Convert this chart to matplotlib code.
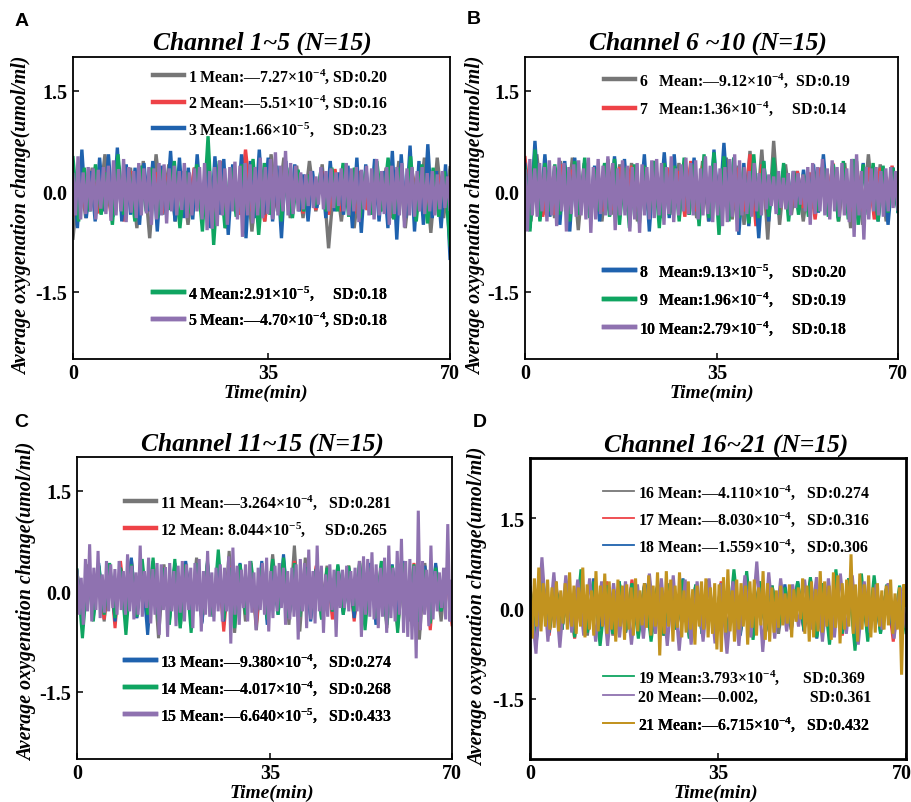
import numpy as np
import matplotlib
matplotlib.use("Agg")
import matplotlib.pyplot as plt
from matplotlib.transforms import ScaledTranslation

plt.rcParams['font.family'] = ['Liberation Serif']
plt.rcParams['font.weight'] = 'bold'
plt.rcParams['mathtext.fontset'] = 'custom'
plt.rcParams['mathtext.rm'] = 'Liberation Serif:bold'
plt.rcParams['mathtext.default'] = 'rm'

W, H = 912, 803

# values (umol/ml), evenly spread over 0-70 min
ch1 = [-.70,.30,-.40,.35,-.30,.55,-.35,.45,-.30,.35,-.55,.45,-.70,.55,-.35,.40,-.45,.30,-.50,.35,-.30,.40,-.35,.45,-.55,.30,-.35,.42,-.60,.35,-.45,.55,-.30,.50,-.40,.38,-.40,.45,-.30,.40,-.85,.30,-.45,.35,-.55,.28,-.25,.20,-.30,.35,-.40,.45,-.55,.35,-.30,.50,-.62,.50,-.40,.35]
ch2 = [-.35,.28,-.30,.25,-.33,.30,-.38,.28,-.45,.30,-.25,.35,-.30,.28,-.33,.30,-.35,.25,-.30,.35,-.28,.32,-.30,.45,-.55,.30,-.35,.62,-.30,.30,-.45,.25,-.25,.20,-.30,.28,-.33,.25,-.28,.30,-.35,.33,-.30,.25,-.33,.30,-.28,.25,-.30,.28,-.35,.28,-.25,.30,-.28,.25,-.30,.28,-.25,.20]
ch3 = [.40,-.55,.62,-.40,.30,-.45,.50,-.30,.55,-.38,.65,-.45,.40,-.35,.35,-.50,.42,-.30,.45,-.60,.38,-.35,.60,-.45,.50,-.40,.35,-.42,.55,-.30,.40,-.55,.52,-.35,.48,-.65,.40,-.35,.55,-.70,.45,-.40,.62,-.35,.50,-.45,.38,-.70,.45,-.35,.40,-.30,.25,-.45,.30,-.25,.35,-.40,.45,-.30,.28,-.35,.38,-.55,.50,-.62,.40,-.35,.48,-.45,.30,-.55,.60,-.72,.55,-.40,.68,-.60,.45,-.50,.70,-.40,.30,-.55,.40,-1.0]
ch4 = [.50,-.45,.35,-.30,.40,-.35,.28,-.50,.55,-.35,.30,-.45,.38,-.30,.35,-.40,.32,-.28,.45,-.55,.30,-.33,.40,-.60,.82,-.80,.45,-.55,.35,-.38,.40,-.30,.48,-.65,.42,-.35,.38,-.45,.35,-.40,.32,-.30,.25,-.22,.28,-.30,.35,-.30,.42,-.38,.35,-.40,.30,-.35,.45,-.30,.50,-.42,.35,-.30,.52,-.45,.40,-.48,.35,-.38,.30,-.80]
ch5 = [.25,-.36,.52,-.42,.28,-.34,.36,-.30,.34,-.42,.32,-.26,.36,-.34,.38,-.44,.46,-.36,.33,-.30,.48,-.46,.36,-.32,.30,-.40,.42,-.36,.34,-.33,.36,-.50,.34,-.42,.42,-.36,.40,-.48,.34,-.30,.38,-.36,.30,-.28,.42,-.40,.28,-.36,.34,-.30,.36,-.42,.42,-.58,.30,-.56,.36,-.52,.46,-.36,.34,-.50,.36,-.30,.44,-.42,.38,-.68,.42,-.36,.40,-.48,.36,-.36,.50,-.40,.36,-.34,.48,-.42,.58,-.36,.38,-.30,.60,-.36,.42,-.34,.38,-.30,.28,-.27,.25,-.22,.30,-.25,.22,-.20,.36,-.27,.30,-.30,.34,-.25,.28,-.22,.34,-.30,.42,-.36,.34,-.30,.36,-.46,.32,-.27,.38,-.36,.34,-.42,.48,-.36,.30,-.34,.36,-.50,.38,-.34,.36,-.36,.42,-.54,.34,-.36,.36,-.38,.30,-.30,.36,-.34,.27,-.30,.30,-.36,.25,-.27,.30,-.25,.22,-.27]

ch6 = [.30,-.45,.55,-.35,.30,-.40,.45,-.35,.50,-.58,.42,-.30,.35,-.45,.48,-.35,.40,-.30,.42,-.45,.38,-.30,.45,-.40,.35,-.35,.42,-.30,.38,-.40,.45,-.45,.40,-.35,.50,-.42,.38,-.50,.60,-.45,.62,-.72,.75,-.50,.40,-.35,.30,-.45,.25,-.30,.35,-.25,.40,-.45,.42,-.55,.45,-.50,.55,-.35,.40,-.45,.35,-.30]
ch7 = [.50,-.30,.35,-.38,.30,-.35,.40,-.28,.32,-.30,.28,-.35,.33,-.30,.30,-.28,.36,-.25,.38,-.30,.33,-.38,.42,-.30,.35,-.28,.30,-.38,.45,-.30,.38,-.28,.35,-.30,.32,-.28,.35,-.30,.55,-.52,.40,-.35,.30,-.28,.25,-.22,.30,-.25,.28,-.42,.35,-.30,.42,-.35,.35,-.30,.33,-.30,.35,-.42,.35,-.28,.38,-.22]
ch8 = [.40,-.55,.75,-.42,.55,-.38,.35,-.50,.45,-.60,.50,-.35,.42,-.30,.38,-.45,.40,-.30,.52,-.35,.48,-.42,.30,-.35,.55,-.60,.45,-.35,.58,-.40,.55,-.38,.42,-.35,.50,-.42,.40,-.45,.62,-.38,.72,-.35,.50,-.65,.42,-.52,.35,-.70,.45,-.45,.38,-.25,.35,-.30,.30,-.28,.32,-.30,.40,-.32,.55,-.35,.38,-.40,.35,-.30,.38,-.35,.42,-.30,.30,-.45,.35,-.50,.35,-.30]
ch9 = [.35,-.60,.62,-.45,.42,-.30,.40,-.35,.38,-.45,.45,-.35,.50,-.40,.33,-.30,.42,-.38,.48,-.50,.35,-.55,.40,-.48,.38,-.35,.45,-.55,.42,-.35,.38,-.45,.50,-.35,.40,-.52,.55,-.40,.58,-.65,.52,-.45,.50,-.40,.35,-.48,.55,-.40,.45,-.38,.50,-.35,.42,-.45,.30,-.35,.25,-.38,.30,-.30,.35,-.38,.40,-.45,.45,-.42,.48,-.50,.40,-.35,.42,-.45,.38,-.32,.35,-.30]
ch10 = [.30,-.60,.48,-.36,.34,-.38,.42,-.30,.36,-.45,.46,-.36,.38,-.52,.50,-.30,.42,-.60,.36,-.34,.40,-.38,.46,-.36,.34,-.42,.50,-.62,.36,-.42,.48,-.34,.38,-.36,.52,-.36,.42,-.58,.34,-.36,.46,-.36,.38,-.60,.36,-.42,.42,-.62,.40,-.36,.36,-.42,.46,-.40,.48,-.36,.42,-.50,.36,-.34,.52,-.46,.34,-.36,.40,-.30,.50,-.34,.42,-.36,.46,-.42,.34,-.36,.52,-.34,.38,-.46,.42,-.36,.34,-.52,.36,-.46,.48,-.38,.55,-.60,.46,-.36,.36,-.34,.30,-.38,.42,-.30,.27,-.36,.34,-.27,.25,-.22,.22,-.34,.30,-.25,.20,-.27,.27,-.36,.30,-.25,.27,-.20,.25,-.30,.36,-.50,.42,-.34,.36,-.30,.48,-.36,.34,-.42,.46,-.30,.36,-.38,.42,-.36,.34,-.46,.48,-.68,.55,-.36,.30,-.72,.36,-.42,.34,-.30,.36,-.36,.30,-.38,.34,-.30,.36,-.25,.30,-.27]

ch11 = [.25,-.45,.40,-.35,.38,-.45,.30,-.42,.35,-.30,.48,-.40,.32,-.38,.45,-.70,.40,-.35,.38,-.55,.42,-.30,.50,-.45,.38,-.35,.42,-.50,.60,-.62,.40,-.45,.35,-.58,.40,-.35,.55,-.30,.38,-.50,.68,-.60,.50,-.40,.35,-.42,.38,-.30,.35,-.30,.32,-.40,.45,-.35,.40,-.30,.42,-.55,.35,-.38,.40,-.45,.35,-.72,.42,-.38,.30,-.45,.35,-.30]
ch12 = [.30,-.40,.35,-.30,.32,-.42,.40,-.55,.45,-.30,.45,-.35,.38,-.30,.42,-.35,.35,-.42,.38,-.35,.40,-.30,.35,-.45,.40,-.35,.45,-.60,.38,-.40,.35,-.35,.42,-.50,.35,-.38,.40,-.30,.38,-.40,.45,-.35,.30,-.32,.38,-.30,.32,-.42,.35,-.30,.38,-.45,.30,-.35,.40,-.38,.35,-.30,.38,-.55,.32,-.30,.42,-.35,.30,-.58,.38,-.30,.25,-.50]
ch13 = [.30,-.50,.35,-.40,.42,-.30,.38,-.45,.35,-.30,.50,-.40,.35,-.65,.40,-.35,.33,-.45,.42,-.40,.45,-.35,.38,-.48,.42,-.30,.40,-.45,.35,-.38,.42,-.30,.38,-.35,.45,-.50,.42,-.35,.55,-.40,.38,-.30,.36,-.45,.33,-.35,.30,-.30,.38,-.35,.35,-.40,.32,-.30,.42,-.50,.38,-.42,.40,-.35,.45,-.30,.30,-.45,.38,-.32,.42,-.30,.30,-.30]
ch14 = [.32,-.70,.30,-.45,.38,-.35,.42,-.40,.35,-.65,.40,-.38,.48,-.35,.50,-.45,.35,-.50,.48,-.55,.40,-.62,.42,-.35,.45,-.38,.62,-.42,.35,-.55,.40,-.35,.45,-.30,.35,-.42,.48,-.35,.50,-.40,.42,-.38,.35,-.30,.32,-.42,.35,-.30,.40,-.35,.38,-.30,.42,-.58,.35,-.40,.45,-.50,.38,-.62,.42,-.35,.40,-.45,.32,-.48,.35,-.30,.30,-.35]
ch15 = [.30,-.35,.20,-.50,.48,-.30,.70,-.45,.35,-.28,.60,-.40,.25,-.32,.45,-.30,.40,-.25,.33,-.35,.45,-.28,.30,-.35,.55,-.30,.38,-.42,.28,-.35,.68,-.38,.30,-.25,.50,-.48,.33,-.35,.42,-.65,.40,-.28,.36,-.68,.42,-.30,.30,-.52,.38,-.32,.45,-.45,.40,-.28,.35,-.55,.42,-.30,.48,-.60,.30,-.35,.60,-.38,.28,-.45,.35,-.30,.40,-.45,.35,-.30,.52,-.78,.65,-.35,.38,-.50,.32,-.25,.40,-.45,.45,-.32,.28,-.58,.35,-.28,.42,-.35,.50,-.60,.30,-.40,.38,-.30,.42,-.25,.35,-.50,.30,-.42,.35,-.38,.40,-.72,.48,-.30,.42,-.55,.62,-.42,.30,-.48,.68,-.30,.38,-.62,.25,-.38,.40,-.28,.32,-.68,.30,-.25,.32,-.25,.38,-.30,.30,-.22,.35,-.30,.45,-.68,.52,-.35,.48,-.38,.58,-.42,.40,-.55,.35,-.38,.50,-.62,.68,-.40,.35,-.45,.60,-.35,.78,-.62,.45,-.68,.48,-.72,.38,-1.0,1.20,-.58,.45,-.35,.32,-.52,.68,-.42,.30,-.30,.28,-.25,.35,-.42,1.0,-.45,.15]

ch16 = [.30,-.50,.42,-.30,.45,-.35,.38,-.40,.50,-.45,.38,-.32,.42,-.45,.35,-.40,.38,-.30,.42,-.45,.35,-.38,.40,-.32,.45,-.48,.38,-.35,.40,-.30,.35,-.42,.48,-.38,.36,-.30,.45,-.35,.38,-.42,.30,-.28,.42,-.35,.35,-.40,.30,-.38,.42,-.30,.35,-.40,.45,-.32,.40,-.35,.38,-.42,.30,-.30]
ch17 = [.35,-.40,.38,-.45,.42,-.35,.40,-.50,.35,-.38,.42,-.30,.45,-.38,.40,-.35,.48,-.42,.40,-.30,.38,-.45,.42,-.35,.45,-.40,.38,-.32,.42,-.40,.45,-.35,.38,-.42,.48,-.35,.40,-.38,.35,-.30,.33,-.35,.40,-.38,.50,-.40,.42,-.35,.52,-.45,.42,-.38,.35,-.40,.38,-.30,.36,-.55,.30,-.30]
ch18 = [.30,-.55,.45,-.40,.38,-.35,.42,-.42,.40,-.38,.50,-.35,.38,-.30,.45,-.40,.40,-.35,.42,-.45,.35,-.38,.42,-.32,.50,-.40,.38,-.42,.48,-.35,.40,-.38,.42,-.45,.38,-.35,.36,-.30,.35,-.32,.40,-.35,.45,-.38,.42,-.50,.40,-.35,.48,-.40,.50,-.58,.42,-.45,.35,-.40,.38,-.42,.30,-.30]
ch19 = [.35,-.45,.48,-.38,.40,-.35,.42,-.48,.65,-.40,.45,-.62,.38,-.42,.45,-.38,.42,-.50,.40,-.55,.38,-.45,.42,-.35,.48,-.50,.40,-.42,.45,-.38,.42,-.48,.65,-.40,.62,-.52,.45,-.38,.38,-.32,.35,-.30,.45,-.35,.52,-.48,.42,-.60,.65,-.42,.50,-.70,.58,-.55,.55,-.42,.40,-.35,.38,-.40]
ch20 = [.30,-.75,.85,-.55,.60,-.65,.55,-.40,.48,-.45,.50,-.55,.45,-.62,.42,-.48,.45,-.60,.40,-.50,.58,-.42,.50,-.62,.55,-.70,.48,-.60,.45,-.55,.50,-.58,.42,-.75,.45,-.62,.55,-.48,.78,-.72,.60,-.50,.50,-.38,.40,-.30,.48,-.35,.52,-.55,.50,-.48,.58,-.42,.55,-.60,.45,-.40,.40,-.35,.42,-.50,.35,-.30]
ch21 = [.32,-.50,.50,-.30,.68,-.38,.42,-.30,.48,-.35,.35,-.32,.45,-.38,.30,-.25,.42,-.35,.60,-.30,.38,-.42,.35,-.30,.68,-.48,.40,-.35,.30,-.45,.62,-.38,.38,-.30,.58,-.42,.45,-.35,.32,-.55,.48,-.30,.38,-.52,.40,-.35,.35,-.45,.50,-.38,.30,-.28,.42,-.32,.55,-.45,.38,-.30,.60,-.78,.35,-.42,.62,-.30,.48,-.55,.38,-.32,.60,-.48,.30,-.40,.45,-.35,.32,-.60,.38,-.30,.45,-.35,.50,-.48,.35,-.42,.42,-.68,.40,-.72,.52,-.40,.65,-.38,.30,-.55,.48,-.35,.42,-.30,.38,-.60,.45,-.32,.48,-.45,.35,-.28,.62,-.52,.42,-.55,.35,-.40,.30,-.32,.38,-.28,.25,-.25,.40,-.48,.32,-.22,.35,-.18,.50,-.42,.38,-.55,.45,-.48,.32,-.38,.62,-.40,.45,-.30,.38,-.52,.60,-.32,.55,-.58,.42,-.35,.48,-.30,.90,-.42,.40,-.55,.58,-.35,.40,-.30,.55,-.48,.35,-.40,.42,-.30,.30,-.35,.38,-.28,.48,-.42,.25,-.35,.35,-1.10,.40,.05]

labels_a = ["1 Mean:—7.27×10$^{-4}$, SD:0.20", "2 Mean:—5.51×10$^{-4}$, SD:0.16",
            "3 Mean:1.66×10$^{-5}$,     SD:0.23", "4 Mean:2.91×10$^{-5}$,     SD:0.18",
            "5 Mean:—4.70×10$^{-4}$, SD:0.18"]
labels_b = ["6   Mean:—9.12×10$^{-4}$,  SD:0.19", "7   Mean:1.36×10$^{-4}$,     SD:0.14",
            "8   Mean:9.13×10$^{-5}$,     SD:0.20", "9   Mean:1.96×10$^{-4}$,     SD:0.19",
            "10 Mean:2.79×10$^{-4}$,     SD:0.18"]
labels_c = ["11 Mean:—3.264×10$^{-4}$,   SD:0.281", "12 Mean: 8.044×10$^{-5}$,     SD:0.265",
            "13 Mean:—9.380×10$^{-4}$,   SD:0.274", "14 Mean:—4.017×10$^{-4}$,   SD:0.268",
            "15 Mean:—6.640×10$^{-5}$,   SD:0.433"]
labels_d = ["16 Mean:—4.110×10$^{-4}$,   SD:0.274", "17 Mean:—8.030×10$^{-4}$,   SD:0.316",
            "18 Mean:—1.559×10$^{-4}$,   SD:0.306", "19 Mean:3.793×10$^{-4}$,      SD:0.369",
            "20 Mean:—0.002,             SD:0.361", "21 Mean:—6.715×10$^{-4}$,   SD:0.432"]

colors = ['#767676', '#ee4247', '#1f62ae', '#0fa561', '#8f72b0', '#c2931f']

# mid tick is not centred in A-C: xmid is where "35" sits along the 0-70 axis
panels = [
    dict(letter='A', lpos=(22, 22), title='Channel 1~5 (N=15)', tpos=(262, 43), box=(73, 58, 450, 360),
         ylim=(-2.5, 2.0), series=[ch1, ch2, ch3, ch4, ch5], labels=labels_a, ylab=(22, 216), xlab=(266, 393),
         xmid=36.2, lw=2.4, leg_lw=3.2, spine=1.3, spacing=0.52,
         blocks=[([0, 1, 2], 153, 67), ([3, 4], 153, 284)]),
    dict(letter='B', lpos=(474, 20), title='Channel 6 ~10 (N=15)', tpos=(708, 43), box=(525, 58, 898, 360),
         ylim=(-2.5, 2.0), series=[ch6, ch7, ch8, ch9, ch10], labels=labels_b, ylab=(476, 216), xlab=(712, 393),
         xmid=36.0, lw=2.4, leg_lw=3.2, spine=1.3, spacing=0.64,
         blocks=[([0, 1], 604, 71), ([2, 3, 4], 604, 262)]),
    dict(letter='C', lpos=(21, 423), title='Channel 11~15 (N=15)', tpos=(262, 444), box=(77, 458, 452, 760),
         ylim=(-2.5, 2.0), series=[ch11, ch12, ch13, ch14, ch15], labels=labels_c, ylab=(27, 602), xlab=(272, 793),
         xmid=36.0, lw=2.2, leg_lw=3.2, spine=1.3, spacing=0.55,
         blocks=[([0, 1], 125, 493), ([2, 3, 4], 125, 652)]),
    dict(letter='D', lpos=(480, 423), title='Channel 16~21 (N=15)', tpos=(726, 445), box=(530, 459, 906, 760),
         ylim=(-2.5, 2.5), series=[ch16, ch17, ch18, ch19, ch20, ch21], labels=labels_d, ylab=(478, 607), xlab=(716, 793),
         xmid=35.0, lw=2.2, leg_lw=1.3, spine=2.0, spacing=0.55,
         blocks=[([0, 1, 2], 603, 483), ([3], 603, 668), ([4], 603, 690), ([5], 603, 715)]),
]


def fx(x):
    return x / W


def fy(y):
    return 1 - y / H


fig = plt.figure(figsize=(W / 100, H / 100), dpi=100)

for p in panels:
    x0, y0, x1, y1 = p['box']
    ax = fig.add_axes([fx(x0), fy(y1), (x1 - x0) / W, (y1 - y0) / H])
    lines = []
    for i, vals in enumerate(p['series']):
        t = np.linspace(0, 70, len(vals))
        ln, = ax.plot(t, vals, color=colors[i], lw=p['lw'], solid_joinstyle='bevel')
        lines.append(ln)
    ax.set_xlim(0, 70)
    ax.set_ylim(*p['ylim'])
    ax.set_xticks([0, p['xmid'], 70], ['0', '35', '70'])
    ax.set_yticks([-1.5, 0, 1.5], ['-1.5', '0.0', '1.5'])
    ax.tick_params(direction='in', length=4, width=1.1, labelsize=14.5, pad=4)
    ax.tick_params(axis='x', pad=3)
    for s in ax.spines.values():
        s.set_linewidth(p['spine'])

    # legends are split the same way as in the figure: above and below the traces
    for idx, lx, ly in p['blocks']:
        leg = ax.legend([lines[j] for j in idx], [p['labels'][j] for j in idx],
                        loc='upper left', bbox_to_anchor=(fx(lx), fy(ly)), bbox_transform=fig.transFigure,
                        frameon=False, borderpad=0, borderaxespad=0, handlelength=1.95, handletextpad=0.28,
                        labelspacing=p['spacing'], prop={'family': 'Liberation Serif', 'weight': 'bold', 'size': 11.4})
        for h in leg.get_lines():
            h.set_linewidth(p['leg_lw'])
        ax.add_artist(leg)

    # the last tick label of D sits against the image edge
    if p['letter'] == 'D':
        lab = ax.get_xticklabels()[-1]
        lab.set_transform(lab.get_transform() + ScaledTranslation(-4 / 100, 0, fig.dpi_scale_trans))

    fig.text(fx(p['lpos'][0]), fy(p['lpos'][1]), p['letter'], family='Liberation Sans', weight='bold',
             fontsize=14, ha='center', va='center')
    fig.text(fx(p['tpos'][0]), fy(p['tpos'][1]), p['title'], style='italic', weight='bold',
             fontsize=18.4, ha='center', va='center')
    fig.text(fx(p['xlab'][0]), fy(p['xlab'][1]), 'Time(min)', style='italic', weight='bold',
             fontsize=14, ha='center', va='center')
    fig.text(fx(p['ylab'][0]), fy(p['ylab'][1]), 'Average oxygenation change(umol/ml)', style='italic',
             weight='bold', fontsize=14.3, rotation=90, ha='center', va='center')

fig.savefig('out.png', dpi=100)
